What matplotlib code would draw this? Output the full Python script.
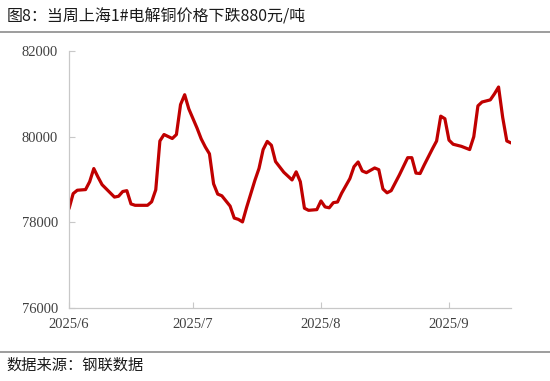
import numpy as np
import pandas as pd
import matplotlib
matplotlib.use("Agg")
import matplotlib.pyplot as plt
import matplotlib.dates as mdates
from matplotlib.ticker import FuncFormatter

# day offsets from 2025-06-01 and price (yuan/ton)
day_offsets = [0, 1, 2, 4, 5, 6, 7, 8, 11, 12, 13, 14, 15, 16, 19, 20, 21, 22, 23, 25,
               26, 27, 28, 29, 31, 32, 33, 34, 35, 36, 37, 39, 40, 41, 42, 43, 45, 46, 47, 48,
               49, 50, 52, 54, 55, 56, 57, 58, 60, 61, 62, 63, 64, 65, 66, 68, 69, 70, 71, 72,
               74, 75, 76, 77, 78, 80, 82, 83, 84, 85, 86, 88, 89, 90, 91, 92, 93, 95, 97, 98,
               99, 100, 102, 103, 104, 105, 106, 107]
prices = [78320, 78671, 78750, 78765, 78950, 79256, 79060, 78880, 78590, 78610, 78720, 78740, 78430, 78398, 78398, 78480, 78760, 79900, 80051, 79958,
          80050, 80750, 80980, 80650, 80200, 79950, 79760, 79600, 78900, 78660, 78620, 78380, 78100, 78070, 78010, 78350, 78980, 79260, 79700, 79890,
          79800, 79420, 79170, 78990, 79180, 78950, 78330, 78281, 78297, 78500, 78360, 78340, 78460, 78475, 78680, 79022, 79300, 79410, 79200, 79160,
          79270, 79230, 78780, 78690, 78740, 79110, 79510, 79510, 79150, 79140, 79340, 79720, 79900, 80480, 80420, 79920, 79824, 79775, 79700, 80000,
          80720, 80810, 80860, 81000, 81160, 80450, 79900, 79855]

dates = pd.Timestamp("2025-06-01") + pd.to_timedelta(day_offsets, unit="D")

title = "图8：当周上海1#电解铜价格下跌880元/吨"
source = "数据来源：钢联数据"

fig = plt.figure(figsize=(5.5, 3.81), dpi=100)
ax = fig.add_axes([0.1255, 0.1916, 0.929 - 0.1255, 0.866 - 0.1916])

ax.plot(dates, prices, color="#c00000", linewidth=2.3, solid_joinstyle="round", solid_capstyle="round")

ax.set_ylim(76000, 82000)
ax.set_yticks([76000, 78000, 80000, 82000])
ax.set_xlim(pd.Timestamp("2025-06-01"), pd.Timestamp("2025-09-16"))
ax.xaxis.set_major_locator(mdates.MonthLocator())
ax.xaxis.set_major_formatter(FuncFormatter(lambda v, p: "%d/%d" % (mdates.num2date(v).year, mdates.num2date(v).month)))

for s in ["top", "right"]:
    ax.spines[s].set_visible(False)
for s in ["left", "bottom"]:
    ax.spines[s].set_color("#c8c8c8")
    ax.spines[s].set_linewidth(0.9)

ax.tick_params(axis="both", direction="in", length=4, color="#c8c8c8", labelcolor="#404040", labelsize=10.5)
ax.tick_params(axis="y", pad=8)
ax.tick_params(axis="x", pad=7)
for lab in ax.get_xticklabels() + ax.get_yticklabels():
    lab.set_fontfamily("Liberation Serif")

cjk = ["Noto Sans CJK SC", "DejaVu Sans"]
fig.text(0.012, 0.955, title, fontsize=11.5, color="#1a1a1a", family=cjk, va="center", ha="left")
fig.text(0.012, 0.042, source, fontsize=11, color="#1a1a1a", family=cjk, va="center", ha="left")

fig.add_artist(plt.Line2D([0, 1], [1 - 32 / 381, 1 - 32 / 381], transform=fig.transFigure, color="#8c8c8c", linewidth=1.2))
fig.add_artist(plt.Line2D([0, 1], [1 - 352 / 381, 1 - 352 / 381], transform=fig.transFigure, color="#8c8c8c", linewidth=1.2))

fig.savefig("out.png", dpi=100)
